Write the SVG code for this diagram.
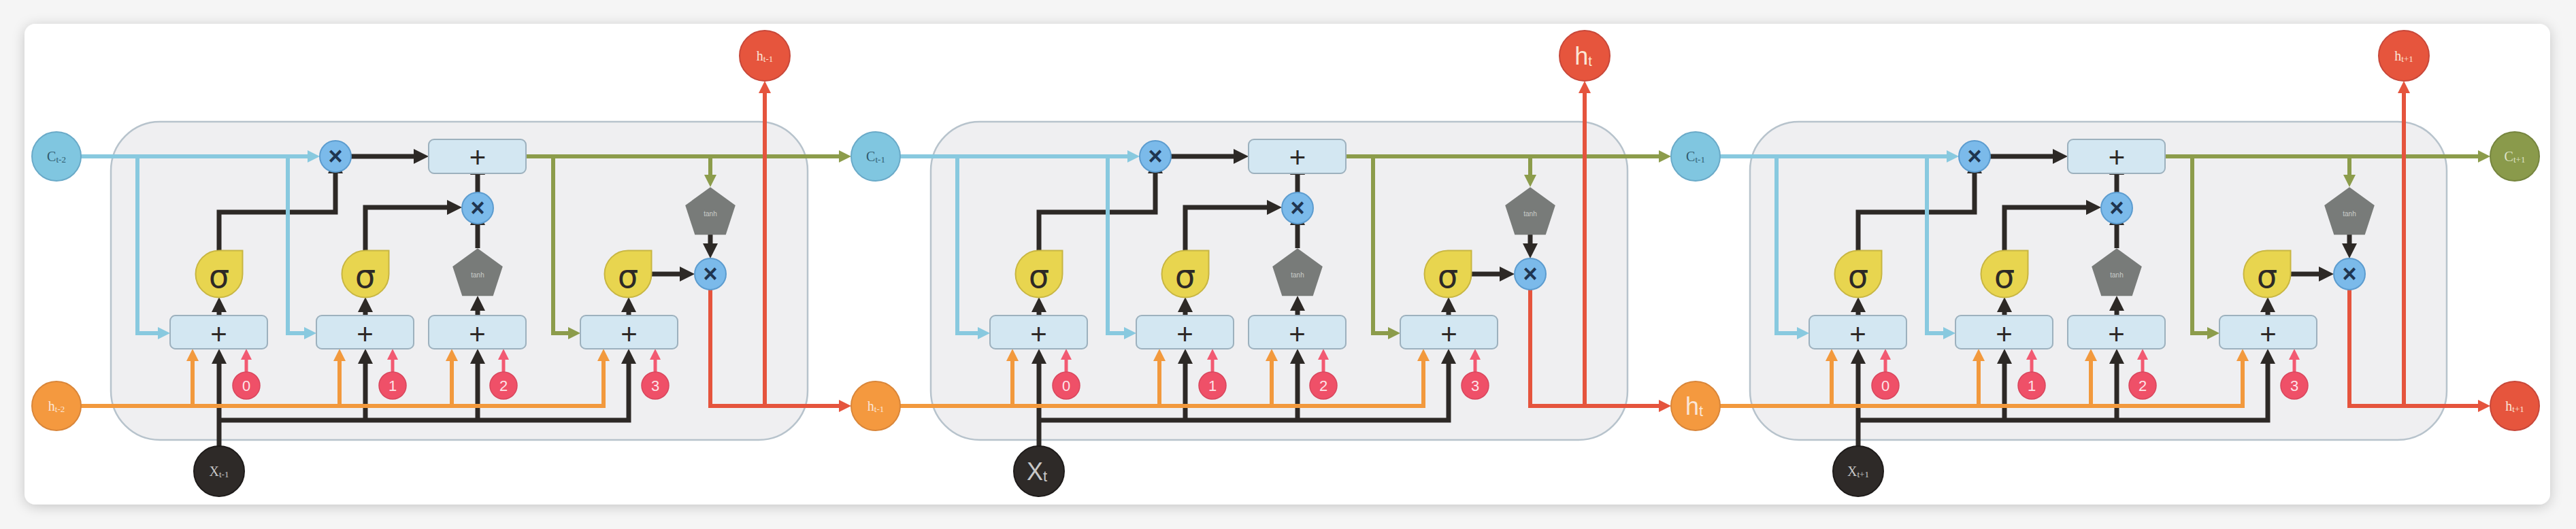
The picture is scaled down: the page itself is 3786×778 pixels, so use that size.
<svg xmlns="http://www.w3.org/2000/svg" width="3786" height="778" viewBox="0 0 3786 778">
<style>
.cell{fill:#efeff1;stroke:#b7c3cc;stroke-width:2.5}
.box{fill:#d3e7f2;stroke:#9db1be;stroke-width:2}
.mul{fill:#7bbaea;stroke:#5c9ccf;stroke-width:2}
.sig{fill:#e8d54f;stroke:#c8b642;stroke-width:2}
.tanh{fill:#787b79}
.bias{fill:#ef5068;stroke:#d8465d;stroke-width:1.5}
.ln{fill:none;stroke-linejoin:miter}
.bk{stroke:#2d2926;stroke-width:7}
.bl{stroke:#88c9df;stroke-width:6}
.gr{stroke:#8c9c4b;stroke-width:6}
.or{stroke:#f2993d;stroke-width:6}
.rd{stroke:#e5543d;stroke-width:6}
.pk{stroke:#f25a72;stroke-width:5}
.t{font-family:"Liberation Sans",Arial,sans-serif;text-anchor:middle}
.plus{font-size:42px;fill:#2d2926}
.times{font-size:36px;font-weight:bold;fill:#1f3550}
.sg{font-size:48px;fill:#2d2926;font-family:"DejaVu Sans","Liberation Sans",sans-serif}
.th{font-size:10px;fill:#c9cbc9}
.num{font-size:22px;fill:#fde3e7}
.lab{font-family:"Liberation Serif","Times New Roman",serif;text-anchor:middle;font-size:20px}
.big{font-family:"Liberation Sans",Arial,sans-serif;text-anchor:middle;font-size:36px}
.cB{fill:#80c6e0;stroke:#6aaac8;stroke-width:2}
.cO{fill:#f4993f;stroke:#d9863a;stroke-width:2}
.cR{fill:#e6553d;stroke:#c8483a;stroke-width:2}
.cK{fill:#2e2a28;stroke:#1e1b1a;stroke-width:2}
.cG{fill:#8a9a4b;stroke:#76853f;stroke-width:2}
.tB{fill:#2f5a6e}
.tL{fill:#fbe6d6}
.tK{fill:#c8c8c8}
.tG{fill:#dfe3c8}
</style>
<defs>
<filter id="sh" x="-5%" y="-10%" width="110%" height="120%"><feDropShadow dx="0" dy="3" stdDeviation="9" flood-color="#000" flood-opacity="0.2"/></filter>
<marker id="aK" viewBox="0 0 22 22" refX="12" refY="11" markerWidth="22" markerHeight="22" markerUnits="userSpaceOnUse" orient="auto"><path d="M0,0 L22,11 L0,22 z" fill="#2d2926"/></marker>
<marker id="aB" viewBox="0 0 18 18" refX="8" refY="9" markerWidth="18" markerHeight="18" markerUnits="userSpaceOnUse" orient="auto"><path d="M0,0 L18,9 L0,18 z" fill="#88c9df"/></marker>
<marker id="aG" viewBox="0 0 18 18" refX="8" refY="9" markerWidth="18" markerHeight="18" markerUnits="userSpaceOnUse" orient="auto"><path d="M0,0 L18,9 L0,18 z" fill="#8c9c4b"/></marker>
<marker id="aO" viewBox="0 0 18 18" refX="8" refY="9" markerWidth="18" markerHeight="18" markerUnits="userSpaceOnUse" orient="auto"><path d="M0,0 L18,9 L0,18 z" fill="#f2993d"/></marker>
<marker id="aR" viewBox="0 0 18 18" refX="8" refY="9" markerWidth="18" markerHeight="18" markerUnits="userSpaceOnUse" orient="auto"><path d="M0,0 L18,9 L0,18 z" fill="#e5543d"/></marker>
<marker id="aP" viewBox="0 0 16 16" refX="6" refY="8" markerWidth="16" markerHeight="16" markerUnits="userSpaceOnUse" orient="auto"><path d="M0,0 L16,8 L0,16 z" fill="#f25a72"/></marker>
</defs>
<rect x="0" y="0" width="3786" height="778" fill="#f5f5f5"/>
<rect x="36" y="35" width="3712" height="707" rx="16" fill="#ffffff" filter="url(#sh)"/>

<!-- CELL 1 -->
<g id="cell1">
<rect class="cell" x="163" y="179" width="1024" height="468" rx="72"/>
<g id="cell1-connectors" class="ln">
<path class="bk" d="M322,656 V523" marker-end="url(#aK)"/>
<path class="bk" d="M322,618 H924 V523" marker-end="url(#aK)"/>
<path class="bk" d="M537,618 V523" marker-end="url(#aK)"/>
<path class="bk" d="M702,618 V523" marker-end="url(#aK)"/>
<path class="bk" d="M322,464 V447" marker-end="url(#aK)"/>
<path class="bk" d="M537,464 V447" marker-end="url(#aK)"/>
<path class="bk" d="M702,464 V445" marker-end="url(#aK)"/>
<path class="bk" d="M924,464 V447" marker-end="url(#aK)"/>
<path class="bk" d="M322,368 V312 H493 V243" marker-end="url(#aK)"/>
<path class="bk" d="M537,368 V305 H669" marker-end="url(#aK)"/>
<path class="bk" d="M702,365 V319" marker-end="url(#aK)"/>
<path class="bk" d="M702,283 V245" marker-end="url(#aK)"/>
<path class="bk" d="M516,230 H620" marker-end="url(#aK)"/>
<path class="bk" d="M957,403 H1011" marker-end="url(#aK)"/>
<path class="bk" d="M1044,345 V370" marker-end="url(#aK)"/>
<path class="or" d="M119,597 H887 V523" marker-end="url(#aO)"/>
<path class="or" d="M283,597 V523" marker-end="url(#aO)"/>
<path class="or" d="M499,597 V523" marker-end="url(#aO)"/>
<path class="or" d="M664,597 V523" marker-end="url(#aO)"/>
<path class="bl" d="M119,230 H460" marker-end="url(#aB)"/>
<path class="bl" d="M202,230 V490 H240" marker-end="url(#aB)"/>
<path class="bl" d="M423,230 V490 H455" marker-end="url(#aB)"/>
<path class="gr" d="M773,230 H1241" marker-end="url(#aG)"/>
<path class="gr" d="M1044,230 V265" marker-end="url(#aG)"/>
<path class="gr" d="M813,230 V490 H843" marker-end="url(#aG)"/>
<path class="rd" d="M1044,426 V597 H1241" marker-end="url(#aR)"/>
<path class="rd" d="M1124,597 V129" marker-end="url(#aR)"/>
<path class="pk" d="M362,547 V523" marker-end="url(#aP)"/>
<path class="pk" d="M577,547 V523" marker-end="url(#aP)"/>
<path class="pk" d="M740,547 V523" marker-end="url(#aP)"/>
<path class="pk" d="M963,547 V523" marker-end="url(#aP)"/>
</g>
<g id="cell1-mul-f"><circle class="mul" cx="493" cy="230" r="23"/><text class="t times" x="493" y="242">×</text></g>
<g id="cell1-add-c"><rect class="box" x="630" y="205" width="143" height="50" rx="8"/><text class="t plus" x="702" y="246">+</text></g>
<g id="cell1-mul-i"><circle class="mul" cx="702" cy="306" r="23"/><text class="t times" x="702" y="318">×</text></g>
<g id="cell1-tanh-g"><polygon class="tanh" points="702,365.3 738.8,392 724.7,435.3 679.3,435.3 665.2,392"/><text class="t th" x="702" y="408">tanh</text></g>
<g id="cell1-sig-f"><path class="sig" d="M322,368.5 H356.5 V403 A34.5,34.5 0 1 1 322,368.5 Z"/><text class="t sg" x="322" y="423">σ</text></g>
<g id="cell1-sig-i"><path class="sig" d="M537,368.5 H571.5 V403 A34.5,34.5 0 1 1 537,368.5 Z"/><text class="t sg" x="537" y="423">σ</text></g>
<g id="cell1-sig-o"><path class="sig" d="M923,368.5 H957.5 V403 A34.5,34.5 0 1 1 923,368.5 Z"/><text class="t sg" x="923" y="423">σ</text></g>
<g id="cell1-mul-o"><circle class="mul" cx="1044" cy="403" r="23"/><text class="t times" x="1044" y="415">×</text></g>
<g id="cell1-tanh-c"><polygon class="tanh" points="1044,275.3 1080.8,302 1066.7,345.3 1021.3,345.3 1007.2,302"/><text class="t th" x="1044" y="318">tanh</text></g>
<g id="cell1-sum0"><rect class="box" x="250" y="464" width="143" height="49" rx="8"/><text class="t plus" x="321.5" y="506">+</text></g>
<g id="cell1-sum1"><rect class="box" x="465" y="464" width="143" height="49" rx="8"/><text class="t plus" x="536.5" y="506">+</text></g>
<g id="cell1-sum2"><rect class="box" x="630" y="464" width="143" height="49" rx="8"/><text class="t plus" x="701.5" y="506">+</text></g>
<g id="cell1-sum3"><rect class="box" x="853" y="464" width="143" height="49" rx="8"/><text class="t plus" x="924.5" y="506">+</text></g>
<g id="cell1-b0"><circle class="bias" cx="362" cy="567" r="20"/><text class="t num" x="362" y="575">0</text></g>
<g id="cell1-b1"><circle class="bias" cx="577" cy="567" r="20"/><text class="t num" x="577" y="575">1</text></g>
<g id="cell1-b2"><circle class="bias" cx="740" cy="567" r="20"/><text class="t num" x="740" y="575">2</text></g>
<g id="cell1-b3"><circle class="bias" cx="963" cy="567" r="20"/><text class="t num" x="963" y="575">3</text></g>
</g>

<!-- CELL 2 -->
<g id="cell2" transform="translate(1205,0)">
<rect class="cell" x="163" y="179" width="1024" height="468" rx="72"/>
<g id="cell2-connectors" class="ln">
<path class="bk" d="M322,656 V523" marker-end="url(#aK)"/>
<path class="bk" d="M322,618 H924 V523" marker-end="url(#aK)"/>
<path class="bk" d="M537,618 V523" marker-end="url(#aK)"/>
<path class="bk" d="M702,618 V523" marker-end="url(#aK)"/>
<path class="bk" d="M322,464 V447" marker-end="url(#aK)"/>
<path class="bk" d="M537,464 V447" marker-end="url(#aK)"/>
<path class="bk" d="M702,464 V445" marker-end="url(#aK)"/>
<path class="bk" d="M924,464 V447" marker-end="url(#aK)"/>
<path class="bk" d="M322,368 V312 H493 V243" marker-end="url(#aK)"/>
<path class="bk" d="M537,368 V305 H669" marker-end="url(#aK)"/>
<path class="bk" d="M702,365 V319" marker-end="url(#aK)"/>
<path class="bk" d="M702,283 V245" marker-end="url(#aK)"/>
<path class="bk" d="M516,230 H620" marker-end="url(#aK)"/>
<path class="bk" d="M957,403 H1011" marker-end="url(#aK)"/>
<path class="bk" d="M1044,345 V370" marker-end="url(#aK)"/>
<path class="or" d="M118,597 H887 V523" marker-end="url(#aO)"/>
<path class="or" d="M283,597 V523" marker-end="url(#aO)"/>
<path class="or" d="M499,597 V523" marker-end="url(#aO)"/>
<path class="or" d="M664,597 V523" marker-end="url(#aO)"/>
<path class="bl" d="M118,230 H460" marker-end="url(#aB)"/>
<path class="bl" d="M202,230 V490 H240" marker-end="url(#aB)"/>
<path class="bl" d="M423,230 V490 H455" marker-end="url(#aB)"/>
<path class="gr" d="M773,230 H1241" marker-end="url(#aG)"/>
<path class="gr" d="M1044,230 V265" marker-end="url(#aG)"/>
<path class="gr" d="M813,230 V490 H843" marker-end="url(#aG)"/>
<path class="rd" d="M1044,426 V597 H1241" marker-end="url(#aR)"/>
<path class="rd" d="M1124,597 V129" marker-end="url(#aR)"/>
<path class="pk" d="M362,547 V523" marker-end="url(#aP)"/>
<path class="pk" d="M577,547 V523" marker-end="url(#aP)"/>
<path class="pk" d="M740,547 V523" marker-end="url(#aP)"/>
<path class="pk" d="M963,547 V523" marker-end="url(#aP)"/>
</g>
<g id="cell2-mul-f"><circle class="mul" cx="493" cy="230" r="23"/><text class="t times" x="493" y="242">×</text></g>
<g id="cell2-add-c"><rect class="box" x="630" y="205" width="143" height="50" rx="8"/><text class="t plus" x="702" y="246">+</text></g>
<g id="cell2-mul-i"><circle class="mul" cx="702" cy="306" r="23"/><text class="t times" x="702" y="318">×</text></g>
<g id="cell2-tanh-g"><polygon class="tanh" points="702,365.3 738.8,392 724.7,435.3 679.3,435.3 665.2,392"/><text class="t th" x="702" y="408">tanh</text></g>
<g id="cell2-sig-f"><path class="sig" d="M322,368.5 H356.5 V403 A34.5,34.5 0 1 1 322,368.5 Z"/><text class="t sg" x="322" y="423">σ</text></g>
<g id="cell2-sig-i"><path class="sig" d="M537,368.5 H571.5 V403 A34.5,34.5 0 1 1 537,368.5 Z"/><text class="t sg" x="537" y="423">σ</text></g>
<g id="cell2-sig-o"><path class="sig" d="M923,368.5 H957.5 V403 A34.5,34.5 0 1 1 923,368.5 Z"/><text class="t sg" x="923" y="423">σ</text></g>
<g id="cell2-mul-o"><circle class="mul" cx="1044" cy="403" r="23"/><text class="t times" x="1044" y="415">×</text></g>
<g id="cell2-tanh-c"><polygon class="tanh" points="1044,275.3 1080.8,302 1066.7,345.3 1021.3,345.3 1007.2,302"/><text class="t th" x="1044" y="318">tanh</text></g>
<g id="cell2-sum0"><rect class="box" x="250" y="464" width="143" height="49" rx="8"/><text class="t plus" x="321.5" y="506">+</text></g>
<g id="cell2-sum1"><rect class="box" x="465" y="464" width="143" height="49" rx="8"/><text class="t plus" x="536.5" y="506">+</text></g>
<g id="cell2-sum2"><rect class="box" x="630" y="464" width="143" height="49" rx="8"/><text class="t plus" x="701.5" y="506">+</text></g>
<g id="cell2-sum3"><rect class="box" x="853" y="464" width="143" height="49" rx="8"/><text class="t plus" x="924.5" y="506">+</text></g>
<g id="cell2-b0"><circle class="bias" cx="362" cy="567" r="20"/><text class="t num" x="362" y="575">0</text></g>
<g id="cell2-b1"><circle class="bias" cx="577" cy="567" r="20"/><text class="t num" x="577" y="575">1</text></g>
<g id="cell2-b2"><circle class="bias" cx="740" cy="567" r="20"/><text class="t num" x="740" y="575">2</text></g>
<g id="cell2-b3"><circle class="bias" cx="963" cy="567" r="20"/><text class="t num" x="963" y="575">3</text></g>
</g>

<!-- CELL 3 -->
<g id="cell3" transform="translate(2409,0)">
<rect class="cell" x="163" y="179" width="1024" height="468" rx="72"/>
<g id="cell3-connectors" class="ln">
<path class="bk" d="M322,656 V523" marker-end="url(#aK)"/>
<path class="bk" d="M322,618 H924 V523" marker-end="url(#aK)"/>
<path class="bk" d="M537,618 V523" marker-end="url(#aK)"/>
<path class="bk" d="M702,618 V523" marker-end="url(#aK)"/>
<path class="bk" d="M322,464 V447" marker-end="url(#aK)"/>
<path class="bk" d="M537,464 V447" marker-end="url(#aK)"/>
<path class="bk" d="M702,464 V445" marker-end="url(#aK)"/>
<path class="bk" d="M924,464 V447" marker-end="url(#aK)"/>
<path class="bk" d="M322,368 V312 H493 V243" marker-end="url(#aK)"/>
<path class="bk" d="M537,368 V305 H669" marker-end="url(#aK)"/>
<path class="bk" d="M702,365 V319" marker-end="url(#aK)"/>
<path class="bk" d="M702,283 V245" marker-end="url(#aK)"/>
<path class="bk" d="M516,230 H620" marker-end="url(#aK)"/>
<path class="bk" d="M957,403 H1011" marker-end="url(#aK)"/>
<path class="bk" d="M1044,345 V370" marker-end="url(#aK)"/>
<path class="or" d="M119,597 H887 V523" marker-end="url(#aO)"/>
<path class="or" d="M283,597 V523" marker-end="url(#aO)"/>
<path class="or" d="M499,597 V523" marker-end="url(#aO)"/>
<path class="or" d="M664,597 V523" marker-end="url(#aO)"/>
<path class="bl" d="M119,230 H460" marker-end="url(#aB)"/>
<path class="bl" d="M202,230 V490 H240" marker-end="url(#aB)"/>
<path class="bl" d="M423,230 V490 H455" marker-end="url(#aB)"/>
<path class="gr" d="M773,230 H1241" marker-end="url(#aG)"/>
<path class="gr" d="M1044,230 V265" marker-end="url(#aG)"/>
<path class="gr" d="M813,230 V490 H843" marker-end="url(#aG)"/>
<path class="rd" d="M1044,426 V597 H1241" marker-end="url(#aR)"/>
<path class="rd" d="M1124,597 V129" marker-end="url(#aR)"/>
<path class="pk" d="M362,547 V523" marker-end="url(#aP)"/>
<path class="pk" d="M577,547 V523" marker-end="url(#aP)"/>
<path class="pk" d="M740,547 V523" marker-end="url(#aP)"/>
<path class="pk" d="M963,547 V523" marker-end="url(#aP)"/>
</g>
<g id="cell3-mul-f"><circle class="mul" cx="493" cy="230" r="23"/><text class="t times" x="493" y="242">×</text></g>
<g id="cell3-add-c"><rect class="box" x="630" y="205" width="143" height="50" rx="8"/><text class="t plus" x="702" y="246">+</text></g>
<g id="cell3-mul-i"><circle class="mul" cx="702" cy="306" r="23"/><text class="t times" x="702" y="318">×</text></g>
<g id="cell3-tanh-g"><polygon class="tanh" points="702,365.3 738.8,392 724.7,435.3 679.3,435.3 665.2,392"/><text class="t th" x="702" y="408">tanh</text></g>
<g id="cell3-sig-f"><path class="sig" d="M322,368.5 H356.5 V403 A34.5,34.5 0 1 1 322,368.5 Z"/><text class="t sg" x="322" y="423">σ</text></g>
<g id="cell3-sig-i"><path class="sig" d="M537,368.5 H571.5 V403 A34.5,34.5 0 1 1 537,368.5 Z"/><text class="t sg" x="537" y="423">σ</text></g>
<g id="cell3-sig-o"><path class="sig" d="M923,368.5 H957.5 V403 A34.5,34.5 0 1 1 923,368.5 Z"/><text class="t sg" x="923" y="423">σ</text></g>
<g id="cell3-mul-o"><circle class="mul" cx="1044" cy="403" r="23"/><text class="t times" x="1044" y="415">×</text></g>
<g id="cell3-tanh-c"><polygon class="tanh" points="1044,275.3 1080.8,302 1066.7,345.3 1021.3,345.3 1007.2,302"/><text class="t th" x="1044" y="318">tanh</text></g>
<g id="cell3-sum0"><rect class="box" x="250" y="464" width="143" height="49" rx="8"/><text class="t plus" x="321.5" y="506">+</text></g>
<g id="cell3-sum1"><rect class="box" x="465" y="464" width="143" height="49" rx="8"/><text class="t plus" x="536.5" y="506">+</text></g>
<g id="cell3-sum2"><rect class="box" x="630" y="464" width="143" height="49" rx="8"/><text class="t plus" x="701.5" y="506">+</text></g>
<g id="cell3-sum3"><rect class="box" x="853" y="464" width="143" height="49" rx="8"/><text class="t plus" x="924.5" y="506">+</text></g>
<g id="cell3-b0"><circle class="bias" cx="362" cy="567" r="20"/><text class="t num" x="362" y="575">0</text></g>
<g id="cell3-b1"><circle class="bias" cx="577" cy="567" r="20"/><text class="t num" x="577" y="575">1</text></g>
<g id="cell3-b2"><circle class="bias" cx="740" cy="567" r="20"/><text class="t num" x="740" y="575">2</text></g>
<g id="cell3-b3"><circle class="bias" cx="963" cy="567" r="20"/><text class="t num" x="963" y="575">3</text></g>
</g>

<!-- STATE NODES -->
<g id="c-t-2"><circle class="cB" cx="83" cy="230" r="36"/><text class="lab tB" x="83" y="237">C<tspan font-size="13" dy="2">t-2</tspan></text></g>
<g id="h-t-2"><circle class="cO" cx="83" cy="597" r="36"/><text class="lab tL" x="83" y="604">h<tspan font-size="13" dy="2">t-2</tspan></text></g>
<g id="x-t-1"><circle class="cK" cx="322" cy="693" r="37"/><text class="lab tK" x="322" y="700">X<tspan font-size="13" dy="2">t-1</tspan></text></g>
<g id="h-t-1-out"><circle class="cR" cx="1124" cy="82" r="37"/><text class="lab tL" x="1124" y="89">h<tspan font-size="13" dy="2">t-1</tspan></text></g>
<g id="c-t-1"><circle class="cB" cx="1287" cy="230" r="36"/><text class="lab tB" x="1287" y="237">C<tspan font-size="13" dy="2">t-1</tspan></text></g>
<g id="h-t-1"><circle class="cO" cx="1287" cy="597" r="36"/><text class="lab tL" x="1287" y="604">h<tspan font-size="13" dy="2">t-1</tspan></text></g>
<g id="x-t"><circle class="cK" cx="1527" cy="693" r="37"/><text class="big tK" x="1524" y="706">X<tspan font-size="22" dy="2">t</tspan></text></g>
<g id="h-t-out"><circle class="cR" cx="2329" cy="82" r="37"/><text class="big tL" x="2327" y="95">h<tspan font-size="20" dy="2">t</tspan></text></g>
<g id="c-t"><circle class="cB" cx="2492" cy="230" r="36"/><text class="lab tB" x="2492" y="237">C<tspan font-size="13" dy="2">t-1</tspan></text></g>
<g id="h-t"><circle class="cO" cx="2492" cy="597" r="36"/><text class="big tL" x="2490" y="610">h<tspan font-size="22" dy="2">t</tspan></text></g>
<g id="x-t+1"><circle class="cK" cx="2731" cy="693" r="37"/><text class="lab tK" x="2731" y="700">X<tspan font-size="13" dy="2">t+1</tspan></text></g>
<g id="h-t+1-out"><circle class="cR" cx="3533" cy="82" r="37"/><text class="lab tL" x="3533" y="89">h<tspan font-size="13" dy="2">t+1</tspan></text></g>
<g id="c-t+1"><circle class="cG" cx="3696" cy="230" r="36"/><text class="lab tG" x="3696" y="237">C<tspan font-size="13" dy="2">t+1</tspan></text></g>
<g id="h-t+1"><circle class="cR" cx="3696" cy="597" r="36"/><text class="lab tL" x="3696" y="604">h<tspan font-size="13" dy="2">t+1</tspan></text></g>
</svg>
